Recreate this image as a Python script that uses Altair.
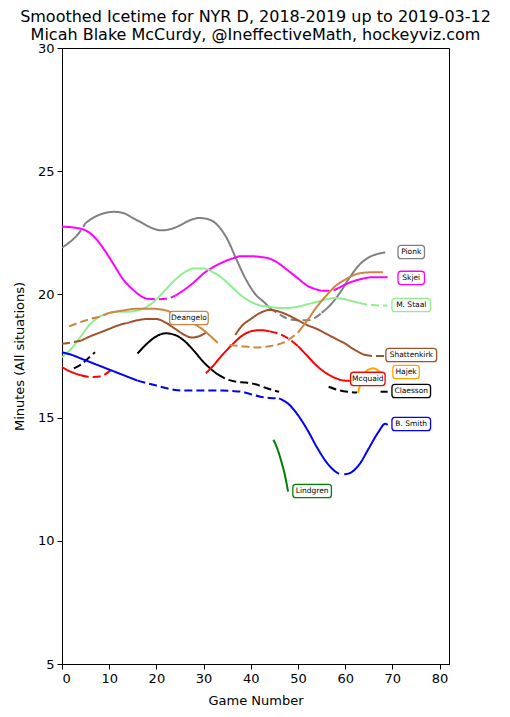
import altair as alt
import pandas as pd

# ---------------- data ----------------
players = ["Pionk", "Skjei", "M. Staal", "Shattenkirk", "Hajek", "Claesson",
           "Mcquaid", "B. Smith", "Lindgren", "Deangelo"]
colors = ["#808080", "#FF00FF", "#90EE90", "#A0522D", "#FFA500", "#000000",
          "#FF0000", "#0000FF", "#008000", "#CD853F"]

# each player: list of (style, games, minutes) segments
pionk = [
    ("solid", [0, 1.5, 3], [21.9, 22.1, 22.35]),
    ("dash", [3, 4, 5], [22.35, 22.6, 22.9]),
    ("solid", [5, 7, 9, 11, 13, 15, 17, 19, 21, 23, 25, 27, 29, 31, 33, 35, 37, 39, 41, 43, 44],
     [22.9, 23.15, 23.3, 23.35, 23.3, 23.1, 22.9, 22.7, 22.6, 22.65, 22.8, 23.0, 23.1, 23.05,
      22.8, 22.25, 21.4, 20.6, 20.0, 19.65, 19.45]),
    ("dash", [44, 46, 48, 50, 52, 54, 55], [19.45, 19.2, 19.0, 18.95, 18.95, 19.1, 19.25]),
    ("solid", [55, 57, 59, 61, 63, 65, 67, 68.5], [19.25, 19.6, 20.1, 20.7, 21.2, 21.5, 21.65, 21.7]),
]
skjei = [
    ("solid", [0, 3, 5, 7, 9, 11, 13, 15, 17, 18], [22.75, 22.7, 22.6, 22.3, 21.8, 21.2, 20.6, 20.2, 19.9, 19.82]),
    ("dash", [18, 20, 22, 24], [19.82, 19.8, 19.82, 19.95]),
    ("solid", [24, 26, 28, 30, 32, 34, 36, 38, 40, 42, 44, 46, 48, 50, 52, 54, 55],
     [19.95, 20.2, 20.5, 20.85, 21.1, 21.3, 21.45, 21.55, 21.55, 21.52, 21.45, 21.25, 20.95,
      20.65, 20.35, 20.2, 20.15]),
    ("dash", [55, 57, 58.5], [20.15, 20.15, 20.25]),
    ("solid", [58.5, 60, 62, 64, 66, 68, 69], [20.25, 20.4, 20.55, 20.65, 20.7, 20.7, 20.7]),
]
staal = [
    ("solid", [0, 2, 4, 6, 8, 10, 12, 14, 16, 18, 20, 22, 24, 26, 28, 30, 32, 34, 36, 38, 40,
               42, 44, 46, 48, 50, 52, 54, 56, 58, 60, 62, 63],
     [17.45, 17.8, 18.3, 18.8, 19.1, 19.25, 19.3, 19.3, 19.35, 19.5, 19.8, 20.2, 20.6, 20.9,
      21.05, 21.05, 20.9, 20.65, 20.3, 19.95, 19.7, 19.55, 19.5, 19.45, 19.45, 19.5, 19.6,
      19.7, 19.8, 19.85, 19.8, 19.7, 19.65]),
    ("dash", [63, 65, 67, 69], [19.65, 19.58, 19.55, 19.55]),
]
shattenkirk = [
    ("dash", [0, 2, 4], [18.0, 18.05, 18.12]),
    ("solid", [4, 6, 8, 10, 12, 14, 16, 18, 20, 22, 24, 26, 27.5, 29, 30.5],
     [18.12, 18.3, 18.45, 18.6, 18.75, 18.85, 18.95, 19.0, 19.0, 18.85, 18.6, 18.35, 18.25, 18.3, 18.45]),
    ("solid", [36.7, 38, 40, 42, 44, 46, 48, 50, 52, 54, 56, 58, 60, 62, 64],
     [18.35, 18.7, 19.0, 19.25, 19.37, 19.3, 19.15, 18.95, 18.75, 18.6, 18.4, 18.2, 18.0, 17.75, 17.55]),
    ("dash", [64, 66, 68, 69], [17.55, 17.5, 17.5, 17.5]),
]
hajek = [
    ("solid", [62.7, 63.3, 64, 65, 66, 67, 67.5], [16.0, 16.4, 16.75, 16.95, 17.0, 16.9, 16.8]),
]
claesson = [
    ("dash", [2.5, 4, 5.5, 7], [17.0, 17.15, 17.4, 17.65]),
    ("solid", [16, 18, 20, 22, 24, 26, 28, 30, 32, 33],
     [17.6, 18.0, 18.3, 18.42, 18.35, 18.1, 17.7, 17.25, 16.9, 16.75]),
    ("dash", [33, 35, 37, 39, 41, 43, 45, 46], [16.75, 16.55, 16.45, 16.42, 16.35, 16.22, 16.1, 16.05]),
    ("dash", [56.5, 58.5, 60.5, 62.5], [16.25, 16.12, 16.05, 16.02]),
    ("solid", [67.5, 69], [16.05, 16.05]),
]
mcquaid = [
    ("solid", [0, 2, 4], [17.05, 16.85, 16.72]),
    ("dash", [4, 6, 8, 10.5], [16.72, 16.65, 16.67, 16.95]),
    ("solid", [30.5, 32, 34, 36, 38, 40, 42, 44], [16.8, 17.1, 17.55, 17.95, 18.3, 18.5, 18.55, 18.5]),
    ("dash", [44, 46, 48, 50], [18.5, 18.4, 18.2, 17.9]),
    ("solid", [50, 52, 54, 56, 58, 60, 61], [17.9, 17.5, 17.1, 16.8, 16.6, 16.5, 16.5]),
]
bsmith = [
    ("solid", [0, 2, 4, 6, 8, 10, 12, 14, 16], [17.65, 17.55, 17.4, 17.25, 17.1, 16.95, 16.8, 16.65, 16.5]),
    ("dash", [16, 18, 20, 22, 24, 26, 28, 30, 32, 34, 36, 38, 40, 42, 44, 46],
     [16.5, 16.4, 16.3, 16.2, 16.12, 16.1, 16.1, 16.1, 16.1, 16.1, 16.08, 16.05, 15.95, 15.85, 15.8, 15.78]),
    ("solid", [46, 48, 50, 52, 54, 56, 58, 58.7], [15.78, 15.55, 15.1, 14.5, 13.8, 13.2, 12.8, 12.72]),
    ("solid", [59.8, 61, 63, 65, 67, 68.5, 69], [12.7, 12.75, 13.1, 13.75, 14.4, 14.75, 14.7]),
]
lindgren = [
    ("solid", [44.8, 45.5, 46.5, 47.3, 47.9], [14.1, 13.8, 13.2, 12.6, 12.0]),
]
deangelo = [
    ("dash", [1.5, 3.5, 6, 8, 10], [18.7, 18.85, 19.0, 19.1, 19.25]),
    ("solid", [10, 13, 16, 19, 22, 24, 26, 28, 30, 31.5, 33],
     [19.25, 19.35, 19.42, 19.42, 19.35, 19.2, 19.0, 18.8, 18.55, 18.3, 18.03]),
    ("dash", [35.5, 38, 41, 44, 47, 50], [17.95, 17.9, 17.85, 17.9, 18.05, 18.45]),
    ("solid", [50, 52, 54, 56, 58, 60, 62, 64, 66, 68], [18.45, 18.95, 19.5, 19.95, 20.35, 20.6, 20.8, 20.88, 20.9, 20.9]),
]
curves = [pionk, skjei, staal, shattenkirk, hajek, claesson, mcquaid, bsmith, lindgren, deangelo]

# name tags: centre game, centre minutes
label_game = [74, 74, 74, 74, 72.9, 74, 64.8, 74, 53, 26.9]
label_value = [21.72, 20.67, 19.57, 17.54, 16.85, 16.08, 16.57, 14.74, 12.02, 19.04]

# ---------------- tables ----------------
rows = []
for name, segs in zip(players, curves):
    for k, (style, gs, vs) in enumerate(segs):
        for g, v in zip(gs, vs):
            rows.append({"player": name, "seg": f"{name}-{k}", "style": style, "game": g, "minutes": v})
lines_df = pd.DataFrame(rows)

char_w = 0.86  # game units per character at the tag font size
tags = []
for name, g, v in zip(players, label_game, label_value):
    half = (len(name) * char_w + 1.3) / 2
    tags.append({"player": name, "game": g, "minutes": v,
                 "x1": g - half, "x2": g + half, "y1": v - 0.27, "y2": v + 0.27})
tags_df = pd.DataFrame(tags)

color_scale = alt.Scale(domain=players, range=colors)
xs = alt.Scale(domain=[0, 82], nice=False, zero=False)
ys = alt.Scale(domain=[5, 30], nice=False, zero=False)

lines = alt.Chart(lines_df).mark_line(strokeWidth=2, interpolate="monotone").encode(
    x=alt.X("game:Q", scale=xs, title="Game Number",
            axis=alt.Axis(values=list(range(0, 81, 10)), titlePadding=9)),
    y=alt.Y("minutes:Q", scale=ys, title="Minutes (All situations)",
            axis=alt.Axis(values=list(range(5, 31, 5)), titlePadding=11)),
    color=alt.Color("player:N", scale=color_scale, legend=None),
    strokeDash=alt.StrokeDash("style:N", scale=alt.Scale(domain=["solid", "dash"], range=[[1, 0], [8, 4]]),
                              legend=None),
    detail="seg:N",
    order="game:Q",
)

boxes = alt.Chart(tags_df).mark_rect(fill="white", strokeWidth=1.3, cornerRadius=3).encode(
    x=alt.X("x1:Q", scale=xs), x2="x2:Q",
    y=alt.Y("y1:Q", scale=ys), y2="y2:Q",
    stroke=alt.Stroke("player:N", scale=color_scale, legend=None),
)
texts = alt.Chart(tags_df).mark_text(fontSize=7.5, font="DejaVu Sans", color="black").encode(
    x=alt.X("game:Q", scale=xs), y=alt.Y("minutes:Q", scale=ys), text="player:N",
)

chart = alt.layer(lines, boxes, texts).properties(
    width=387, height=616,
    title=alt.TitleParams(
        ["Smoothed Icetime for NYR D, 2018-2019 up to 2019-03-12",
         "Micah Blake McCurdy, @IneffectiveMath, hockeyviz.com"],
        fontSize=16, font="DejaVu Sans", fontWeight="normal", color="black",
        lineHeight=18, anchor="middle", offset=5, frame="group", dy=6,
    ),
    autosize=alt.AutoSizeParams(type="none"),
    padding={"left": 54, "top": 40, "right": 53, "bottom": 45},
).configure_view(stroke="black", strokeWidth=1).configure_axis(
    grid=False, domainColor="black", tickColor="black", labelColor="black", titleColor="black",
    labelFont="DejaVu Sans", titleFont="DejaVu Sans", labelFontSize=13, titleFontSize=13,
    titleFontWeight="normal", tickSize=5, labelPadding=3,
)

chart.save("out.html", embed_options={"renderer": "svg", "actions": False})
